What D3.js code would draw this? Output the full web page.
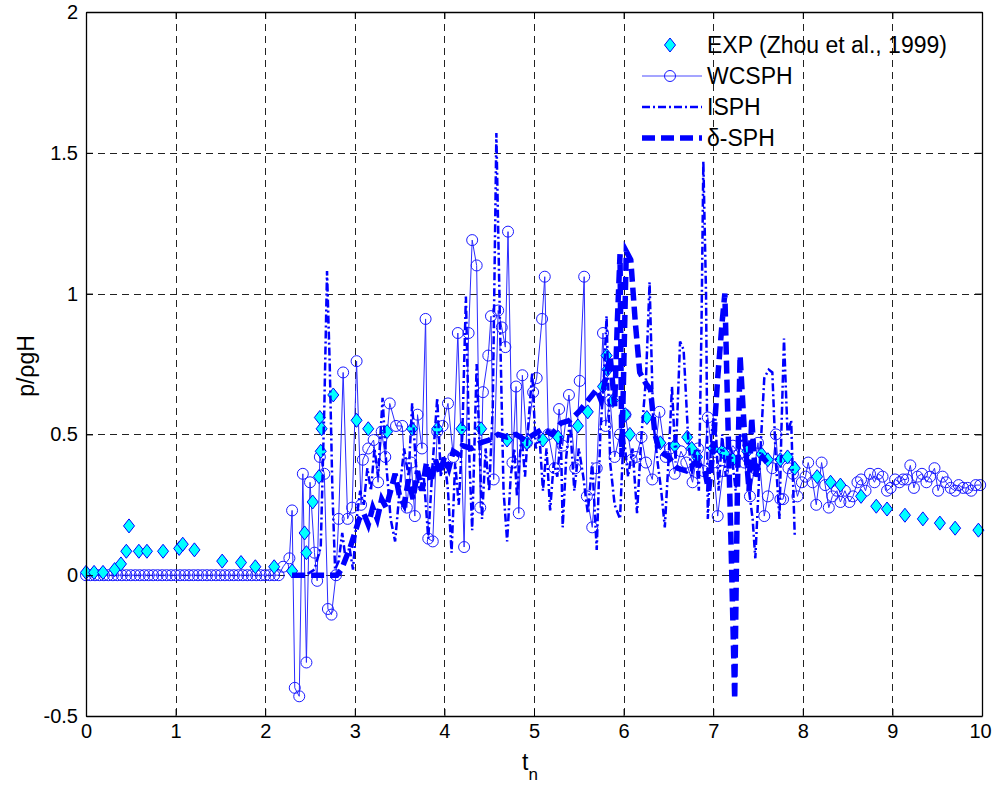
<!DOCTYPE html>
<html>
<head>
<meta charset="utf-8">
<script src="https://cdn.jsdelivr.net/npm/d3@7"></script>
<style>
  body { margin: 0; background: #fff; }
  svg { display: block; font-family: "Liberation Sans", Arial, sans-serif; }
</style>
</head>
<body>
<div class="chart"></div>
<script>
// experiment (Zhou et al., 1999)
var expT = [0,0.09,0.19,0.32,0.39,0.45,0.48,0.59,0.68,0.86,1.04,1.08,1.21,1.52,1.73,1.89,2.1,2.3,2.44,2.46,
  2.53,2.6,2.61,2.62,2.63,2.76,3.02,3.15,3.36,3.64,3.92,4.19,4.41,4.7,4.92,5.1,5.27,5.49,5.6,5.77,
  5.81,5.82,5.88,6.02,6.07,6.26,6.41,6.57,6.71,6.76,6.82,7,7.1,7.13,7.22,7.38,7.54,7.61,7.75,7.83,
  7.91,8.16,8.31,8.42,8.65,8.82,8.94,9.14,9.34,9.53,9.7,9.96];
var expP = [0.01,0.01,0.01,0.02,0.04,0.085,0.175,0.085,0.085,0.085,0.095,0.11,0.09,0.05,0.045,0.03,0.03,0.015,0.15,0.08,
  0.26,0.35,0.56,0.44,0.52,0.64,0.55,0.52,0.51,0.52,0.52,0.52,0.52,0.48,0.47,0.48,0.49,0.53,0.58,0.67,
  0.78,0.73,0.62,0.57,0.5,0.56,0.47,0.46,0.49,0.45,0.42,0.45,0.44,0.43,0.41,0.44,0.43,0.41,0.41,0.42,
  0.38,0.35,0.33,0.32,0.28,0.245,0.235,0.213,0.2,0.185,0.167,0.16];

// WCSPH
var wcsphT = [0,0.05,0.1,0.15,0.2,0.25,0.3,0.35,0.4,0.45,0.5,0.55,0.6,0.65,0.7,0.75,0.8,0.85,0.9,0.95,
  1,1.05,1.1,1.15,1.2,1.25,1.3,1.35,1.4,1.45,1.5,1.55,1.6,1.65,1.7,1.75,1.8,1.85,1.9,1.95,2,2.05,2.1,2.15,
  2.2,2.27,2.3,2.33,2.38,2.42,2.46,2.5,2.55,2.58,2.61,2.66,2.7,2.74,2.79,2.82,2.87,2.92,2.97,3.02,
  3.07,3.09,3.15,3.21,3.26,3.3,3.34,3.39,3.46,3.53,3.58,3.63,3.67,3.7,3.75,3.79,3.82,3.87,3.92,3.98,
  4.04,4.1,4.15,4.22,4.27,4.31,4.36,4.4,4.43,4.49,4.52,4.55,4.6,4.64,4.68,4.71,4.76,4.8,4.83,4.87,
  4.92,4.99,5.03,5.09,5.12,5.16,5.23,5.28,5.32,5.39,5.46,5.51,5.56,5.59,5.65,5.7,5.77,5.8,5.85,5.9,
  5.96,6.02,6.09,6.14,6.2,6.25,6.32,6.4,6.47,6.52,6.57,6.64,6.7,6.77,6.83,6.89,6.94,7,7.05,7.11,
  7.16,7.22,7.29,7.35,7.41,7.46,7.5,7.57,7.61,7.66,7.7,7.75,7.78,7.84,7.89,7.94,7.99,8.03,8.06,8.11,
  8.15,8.21,8.25,8.29,8.33,8.38,8.42,8.47,8.52,8.56,8.61,8.65,8.7,8.75,8.8,8.84,8.89,8.94,8.98,9.03,
  9.08,9.12,9.16,9.2,9.24,9.28,9.33,9.38,9.42,9.47,9.51,9.56,9.6,9.65,9.7,9.74,9.79,9.84,9.88,9.93,9.98];
var wcsphP = [0,0,0,0,0,0,0,0,0,0,0,0,0,0,0,0,0,0,0,0,0,0,0,0,0,0,0,0,0,0,0,0,0,0,0,0,0,0,0,0,0,0,0,0,
  0.03,0.06,0.23,-0.40,-0.43,0.36,-0.31,0.33,0.08,-0.02,0.42,0.36,-0.12,-0.14,0.00,0.20,0.72,0.20,0.24,0.76,
  0.25,0.41,0.45,0.48,0.33,0.51,0.42,0.61,0.53,0.53,0.24,0.40,0.21,0.57,0.45,0.91,0.13,0.12,0.51,0.53,
  0.61,0.42,0.86,0.10,0.86,1.19,1.10,0.24,0.65,0.78,0.92,0.34,0.94,0.88,0.81,1.22,0.40,0.67,0.22,0.71,
  0.47,0.65,0.70,0.91,1.06,0.50,0.38,0.59,0.46,0.64,0.38,0.69,1.06,0.28,0.17,0.38,0.86,0.53,0.62,0.42,
  0.50,0.57,0.41,0.42,0.49,0.40,0.34,0.58,0.42,0.45,0.36,0.44,0.40,0.33,0.45,0.37,0.56,0.40,0.21,0.37,
  0.43,0.46,0.43,0.40,0.28,0.38,0.47,0.21,0.28,0.38,0.50,0.27,0.27,0.38,0.36,0.28,0.33,0.35,0.40,0.33,
  0.25,0.40,0.32,0.24,0.28,0.30,0.26,0.30,0.26,0.28,0.33,0.34,0.30,0.36,0.33,0.36,0.35,0.30,0.31,0.34,
  0.33,0.34,0.34,0.39,0.31,0.35,0.36,0.33,0.35,0.38,0.30,0.35,0.33,0.31,0.30,0.32,0.31,0.31,0.30,0.32,0.32];

// ISPH
var isphT = [2.3,2.45,2.55,2.62,2.66,2.69,2.72,2.75,2.78,2.82,2.86,2.9,2.94,2.98,3.02,3.06,3.1,3.14,3.18,3.22,
  3.26,3.31,3.35,3.4,3.45,3.5,3.55,3.6,3.64,3.68,3.72,3.77,3.82,3.87,3.92,3.96,4,4.04,4.08,4.12,
  4.16,4.2,4.24,4.28,4.31,4.36,4.42,4.46,4.5,4.54,4.58,4.62,4.66,4.7,4.74,4.78,4.81,4.86,4.9,4.94,
  4.98,5.02,5.06,5.1,5.14,5.18,5.22,5.26,5.3,5.32,5.36,5.4,5.45,5.5,5.55,5.6,5.65,5.7,5.74,5.78,
  5.81,5.85,5.9,5.96,6,6.05,6.1,6.15,6.2,6.25,6.29,6.33,6.38,6.42,6.46,6.5,6.54,6.58,6.63,6.67,
  6.72,6.76,6.8,6.84,6.87,6.89,6.92,6.94,6.98,7.02,7.06,7.1,7.14,7.2,7.25,7.3,7.35,7.4,7.44,7.47,
  7.52,7.57,7.62,7.66,7.7,7.74,7.76,7.79,7.83,7.87,7.91];
var isphP = [0,0,0.02,0.1,0.6,1.08,0.75,0.3,0.02,0.05,0.15,0.05,0.1,0.02,0.2,0.3,0.25,0.38,0.3,0.45,
  0.35,0.63,0.4,0.2,0.12,0.3,0.45,0.35,0.61,0.4,0.3,0.35,0.13,0.4,0.63,0.35,0.42,0.3,0.08,0.4,
  0.25,0.5,0.99,0.4,0.16,0.75,0.2,0.45,0.3,0.6,1.57,0.9,0.3,0.12,0.35,0.45,0.28,0.5,0.35,0.55,
  0.72,0.45,0.5,0.3,0.45,0.23,0.4,0.35,0.5,0.17,0.42,0.55,0.3,0.45,0.35,0.22,0.4,0.09,0.5,0.7,
  0.92,0.4,0.25,0.2,0.5,0.35,0.45,0.22,0.5,0.7,1.04,0.55,0.4,0.3,0.17,0.4,0.67,0.4,0.83,0.8,
  0.49,0.35,0.45,0.3,0.9,1.47,1.0,0.2,0.5,0.59,0.3,0.5,0.35,0.45,0.3,0.5,0.45,0.3,0.2,0.06,
  0.4,0.7,0.73,0.72,0.4,0.2,0.5,0.84,0.5,0.55,0.14];

// delta-SPH
var dsphT = [2.3,2.5,2.7,2.8,2.85,2.9,2.95,3,3.05,3.1,3.15,3.2,3.25,3.3,3.35,3.4,3.45,3.5,3.55,3.6,3.65,3.7,
  3.75,3.8,3.85,3.9,3.95,4,4.05,4.1,4.15,4.2,4.3,4.4,4.5,4.6,4.7,4.8,4.9,5,5.1,5.2,
  5.3,5.4,5.5,5.6,5.7,5.75,5.8,5.85,5.9,5.93,5.96,5.98,6.03,6.08,6.13,6.18,6.25,6.3,6.35,6.4,
  6.5,6.6,6.7,6.8,6.9,6.95,7,7.05,7.1,7.13,7.16,7.2,7.24,7.27,7.3,7.35,7.4,7.43,7.47,7.5,7.55,7.6];
var dsphP = [0,0,0,0,0.02,0.06,0.1,0.15,0.2,0.22,0.18,0.24,0.2,0.27,0.24,0.3,0.36,0.28,0.25,0.34,0.27,0.37,
  0.3,0.4,0.33,0.41,0.36,0.42,0.38,0.44,0.43,0.46,0.45,0.47,0.48,0.5,0.49,0.5,0.48,0.5,0.52,0.5,
  0.54,0.55,0.58,0.62,0.66,0.62,0.7,0.78,0.6,0.9,1.14,0.42,1.15,1.12,0.9,0.72,0.68,0.66,0.5,0.44,
  0.42,0.38,0.37,0.4,0.38,0.3,0.45,0.7,0.9,1.0,0.6,0.1,-0.44,0.3,0.78,0.5,0.3,0.56,0.35,0.4,0.42,0.4];

var xTicks = [0,1,2,3,4,5,6,7,8,9,10];
var yTicks = [-0.5,0,0.5,1,1.5,2];
var legendNames = ["EXP (Zhou et al., 1999)", "WCSPH", "ISPH", "\u03b4-SPH"];

var W = 992, H = 786;
var margin = {top: 12, right: 10, bottom: 70, left: 86};
var x0 = margin.left, x1 = W - margin.right, y0 = margin.top, y1 = H - margin.bottom;

var svg = d3.select(".chart").append("svg")
    .attr("width", W)
    .attr("height", H);

svg.append("rect").attr("width", W).attr("height", H).attr("fill", "#fff");

var x = d3.scaleLinear().domain([0, 10]).range([x0, x1]);
var y = d3.scaleLinear().domain([-0.5, 2]).range([y1, y0]);

function pairs(ts, ps) {
  return ts.map(function(t, i) { return {t: t, p: ps[i]}; });
}

// grid
var grid = svg.append("g").attr("stroke", "#222").attr("stroke-width", 1)
    .attr("stroke-dasharray", "7,5");
grid.selectAll(".gx").data(xTicks.slice(1, -1)).enter().append("line")
    .attr("x1", function(d) { return Math.round(x(d)) + 0.5; })
    .attr("x2", function(d) { return Math.round(x(d)) + 0.5; })
    .attr("y1", y0).attr("y2", y1);
grid.selectAll(".gy").data(yTicks.slice(1, -1)).enter().append("line")
    .attr("y1", function(d) { return Math.round(y(d)) + 0.5; })
    .attr("y2", function(d) { return Math.round(y(d)) + 0.5; })
    .attr("x1", x0).attr("x2", x1);

var line = d3.line()
    .x(function(d) { return x(d.t); })
    .y(function(d) { return y(d.p); });

var plot = svg.append("g");

// WCSPH
var wc = pairs(wcsphT, wcsphP);
plot.append("path").datum(wc)
    .attr("d", line).attr("fill", "none")
    .attr("stroke", "#2a2aff").attr("stroke-width", 1);
plot.selectAll(".wc").data(wc).enter().append("circle")
    .attr("cx", function(d) { return x(d.t); })
    .attr("cy", function(d) { return y(d.p); })
    .attr("r", 5.5)
    .attr("fill", "none").attr("stroke", "#1a1aff").attr("stroke-width", 1);

// EXP diamonds
var diamond = "M0,-7L5.5,0L0,7L-5.5,0Z";
plot.selectAll(".exp").data(pairs(expT, expP)).enter().append("path")
    .attr("d", diamond)
    .attr("transform", function(d) { return "translate(" + x(d.t) + "," + y(d.p) + ")"; })
    .attr("fill", "#00ffff").attr("stroke", "#0000ff").attr("stroke-width", 1);

// ISPH
plot.append("path").datum(pairs(isphT, isphP))
    .attr("d", line).attr("fill", "none")
    .attr("stroke", "#0000ff").attr("stroke-width", 2.5)
    .attr("stroke-dasharray", "8,3,2,3");

// delta-SPH
plot.append("path").datum(pairs(dsphT, dsphP))
    .attr("d", line).attr("fill", "none")
    .attr("stroke", "#0000ff").attr("stroke-width", 5.5)
    .attr("stroke-dasharray", "13,6");

// axes
var fmt = function(d) { return String(d); };
var ax = svg.append("g").attr("transform", "translate(0," + y1 + ")")
    .call(d3.axisBottom(x).tickValues(xTicks).tickFormat(fmt).tickSizeInner(-7).tickSizeOuter(0).tickPadding(8));
var ay = svg.append("g").attr("transform", "translate(" + x0 + ",0)")
    .call(d3.axisLeft(y).tickValues(yTicks).tickFormat(fmt).tickSizeInner(-7).tickSizeOuter(0).tickPadding(8));
var at = svg.append("g").attr("transform", "translate(0," + y0 + ")")
    .call(d3.axisTop(x).tickValues(xTicks).tickFormat("").tickSizeInner(-7).tickSizeOuter(0));
var ar = svg.append("g").attr("transform", "translate(" + x1 + ",0)")
    .call(d3.axisRight(y).tickValues(yTicks).tickFormat("").tickSizeInner(-7).tickSizeOuter(0));

[ax, ay, at, ar].forEach(function(g) {
  g.selectAll("path.domain").attr("stroke", "#000").attr("stroke-width", 1.3);
  g.selectAll(".tick line").attr("stroke", "#000");
  g.selectAll("text").attr("fill", "#000").style("font-size", "20px")
      .style("font-family", "'Liberation Sans', Arial, sans-serif");
});
// keep the last x label inside the page
ax.selectAll(".tick text").filter(function(d) { return d === 10; }).attr("dx", -2);

// axis labels
var xl = svg.append("text").attr("x", 522).attr("y", 770)
    .style("font-size", "23px");
xl.append("tspan").text("t");
xl.append("tspan").attr("dy", 10).style("font-size", "17px").text("n");

svg.append("text")
    .attr("transform", "translate(34,366) rotate(-90)")
    .attr("text-anchor", "middle")
    .style("font-size", "23px")
    .text("p/\u03c1gH");

// legend
var lg = svg.append("g").attr("transform", "translate(640,45)");
var rows = lg.selectAll(".row").data(legendNames).enter().append("g")
    .attr("transform", function(d, i) { return "translate(0," + i * 31 + ")"; });
rows.append("text").attr("x", 67).attr("dy", "0.36em")
    .style("font-size", "23px").text(function(d) { return d; });

rows.filter(function(d, i) { return i === 0; }).append("path")
    .attr("d", diamond).attr("transform", "translate(30,0)")
    .attr("fill", "#00ffff").attr("stroke", "#0000ff");
var r1 = rows.filter(function(d, i) { return i === 1; });
r1.append("line").attr("x1", 2).attr("x2", 62).attr("stroke", "#4a4aff").attr("stroke-width", 1);
r1.append("circle").attr("cx", 30).attr("r", 5.5).attr("fill", "none").attr("stroke", "#1a1aff");
rows.filter(function(d, i) { return i === 2; }).append("line")
    .attr("x1", 2).attr("x2", 62).attr("stroke", "#0000ff").attr("stroke-width", 2.5)
    .attr("stroke-dasharray", "8,3,2,3");
rows.filter(function(d, i) { return i === 3; }).append("line")
    .attr("x1", 2).attr("x2", 62).attr("stroke", "#0000ff").attr("stroke-width", 5.5)
    .attr("stroke-dasharray", "13,6");
</script>
</body>
</html>
